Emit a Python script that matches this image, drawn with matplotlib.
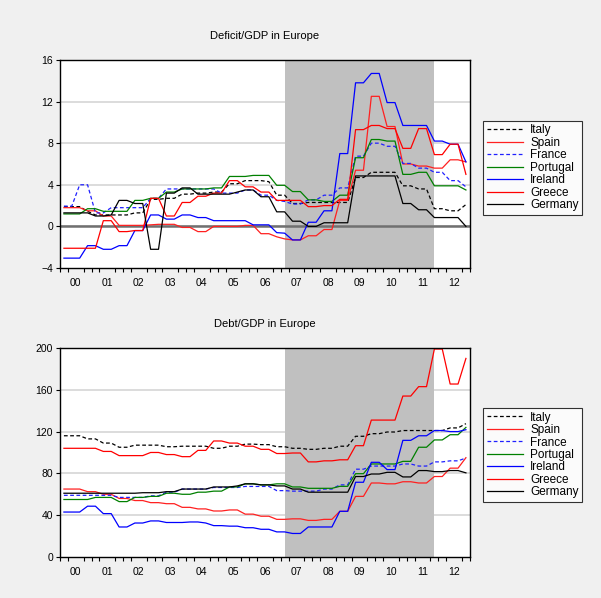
#!/usr/bin/env python
"""
Deficit/GDP and Debt/GDP for seven European countries, quarterly 2000-2012,
with the 2007Q1-2011Q4 crisis window shaded.  Output: out.png
"""
import numpy as np
import matplotlib

matplotlib.use("Agg")
import matplotlib.pyplot as plt

plt.rcParams["font.family"] = ["Liberation Sans", "DejaVu Sans"]

BG, SHADE, GRID, ZERO = "#f0f0f0", "#c0c0c0", "#d9d9d9", "#707070"

COUNTRIES = ["Italy", "Spain", "France", "Portugal", "Ireland", "Greece", "Germany"]
YEAR_LABELS = ["00", "01", "02", "03", "04", "05", "06", "07", "08", "09", "10", "11", "12"]
CRISIS = (2007.125, 2011.875)

# quarterly values, 2000Q1 .. 2012Q4 (52 points each)
ITALY_DEF = ([1.9] * 3 + [1.45] + [1.1] * 5 + [1.3] * 2 + [2.6] * 2 + [2.7] * 2
             + [3.1] * 2 + [3.2] * 2 + [3.3] * 2 + [4.1] * 2 + [4.4] * 3 + [4.3]
             + [3.0] * 2 + [2.2] * 2 + [2.3] * 6 + [4.7] * 2 + [5.2] * 4
             + [3.9] * 2 + [3.6] * 2 + [1.7] * 2 + [1.5] * 2 + [2.1])
SPAIN_DEF = ([1.8] * 3 + [1.5] * 2 + [1.0] * 2 + [0.1] * 4 + [0.15] + [0.2] * 3
             + [-0.1] * 2 + [-0.5] * 2 + [0.0] * 4 + [0.1] * 2 + [-0.7] * 2
             + [-1.0] + [-1.2] + [-1.3] * 2 + [-0.9] * 2 + [-0.3] * 2 + [2.5] * 2
             + [5.4] * 2 + [12.5] * 2 + [9.6] * 2 + [6.0] * 2 + [5.8] * 2
             + [5.6] * 2 + [6.4] * 2 + [6.2])
FRANCE_DEF = ([1.95] * 2 + [4.0] * 2 + [1.3] * 2 + [1.8] * 5 + [2.7] * 2
              + [3.6] * 7 + [3.2] * 3 + [3.5] * 2 + [3.0] * 2 + [2.5] + [2.4]
              + [2.15] * 2 + [2.55] * 2 + [3.0] * 2 + [3.7] * 2 + [6.75] * 2
              + [8.0] * 2 + [7.7] * 2 + [6.05] * 2 + [5.6] * 2 + [5.2] * 2
              + [4.4] * 2 + [3.8])
PORTUGAL_DEF = ([1.2] * 3 + [1.7] * 2 + [1.45] * 4 + [2.5] * 2 + [2.7] * 2
                + [3.3] * 2 + [3.6] * 4 + [3.7] * 2 + [4.8] * 3 + [4.9] * 3
                + [3.95] * 2 + [3.35] * 2 + [2.55] * 2 + [2.4] * 2 + [3.0] * 2
                + [6.6] * 2 + [8.35] * 2 + [8.2] * 2 + [5.0] * 2 + [5.2] * 2
                + [3.9] * 4 + [3.5])
IRELAND_DEF = ([-3.05] * 3 + [-1.85] * 2 + [-2.2] * 2 + [-1.85] * 2 + [-0.4] * 2
               + [1.1] * 2 + [0.7] * 2 + [1.1] * 2 + [0.85] * 2 + [0.55] * 5
               + [0.15] * 3 + [-0.6] + [-0.65] + [-1.3] * 2 + [0.4] * 2
               + [1.5] * 2 + [7.0] * 2 + [13.8] * 2 + [14.7] * 2 + [11.9] * 2
               + [9.7] * 4 + [8.2] * 2 + [7.9] * 2 + [6.2])
GREECE_DEF = ([-2.1] * 5 + [0.55] * 2 + [-0.5] * 2 + [-0.4] * 2 + [2.7] * 2
              + [1.0] * 2 + [2.3] * 2 + [2.9] * 2 + [3.2] * 2 + [4.4] * 2
              + [3.8] * 2 + [3.3] * 2 + [2.5] * 4 + [1.9] * 2 + [2.0] * 2
              + [2.6] * 2 + [9.3] * 2 + [9.7] * 2 + [9.4] * 2 + [7.5] * 2
              + [9.4] * 2 + [6.9] * 2 + [7.9] * 2 + [5.0])
GERMANY_DEF = ([1.3] * 4 + [1.0] * 2 + [1.1] + [2.5] * 2 + [2.2] * 2 + [-2.2] * 2
               + [3.2] * 2 + [3.7] * 2 + [3.1] * 5 + [3.3] + [3.5] * 2
               + [2.85] * 2 + [1.4] * 2 + [0.5] * 2 + [0.0] * 2 + [0.35] * 4
               + [4.85] * 6 + [2.2] * 2 + [1.6] * 2 + [0.85] * 4 + [0.0])

ITALY_DEBT = ([116] * 3 + [113] * 2 + [109] * 2 + [105] * 2 + [107] * 4
              + [105.5] * 2 + [106] * 4 + [104] * 2 + [106] * 2 + [108] * 2
              + [107.5] * 2 + [105.5] * 2 + [104] * 2 + [103] * 2 + [104] * 2
              + [106] * 2 + [115.5] * 2 + [118] * 2 + [119.6] * 2 + [121] * 6
              + [123.5] * 2 + [127.6])
SPAIN_DEBT = ([65] * 3 + [62.5] * 2 + [60] * 2 + [56] * 2 + [54] * 2 + [52] * 2
              + [51] * 2 + [47.5] * 2 + [46] * 2 + [44] * 2 + [45] * 2 + [41] * 2
              + [39] * 2 + [36] * 2 + [36.5] * 2 + [35] * 2 + [36] * 2
              + [43.7] * 2 + [58] * 2 + [70.8] * 2 + [70] * 2 + [72] * 2
              + [70.8] * 2 + [77] * 2 + [85] * 2 + [95])
FRANCE_DEBT = ([59] * 7 + [57] * 4 + [58.5] * 2 + [62] * 2 + [65] * 4
               + [66.5] * 4 + [67.5] * 4 + [63.5] * 2 + [63] * 4 + [65] * 2
               + [69] * 2 + [84] * 2 + [87] * 4 + [89] * 2 + [87] * 2 + [91] * 2
               + [92] * 2 + [94.7])
PORTUGAL_DEBT = ([55] * 4 + [57] * 3 + [53] * 2 + [57] * 2 + [58] * 2 + [61] * 2
                 + [60] * 2 + [62] * 2 + [63] * 2 + [67] * 2 + [70] * 2
                 + [69] * 2 + [70] * 2 + [67] * 2 + [65.7] * 4 + [67.6] * 2
                 + [79.7] * 2 + [89] * 4 + [91.5] * 2 + [105] * 2 + [112] * 2
                 + [117] * 2 + [124])
IRELAND_DEBT = ([43] * 3 + [48.6] * 2 + [41.5] * 2 + [28.7] * 2 + [32.5] * 2
                + [34.5] * 2 + [33] * 3 + [33.5] * 2 + [32.5] + [30] * 2
                + [29.5] * 2 + [28] * 2 + [26.5] * 2 + [24] * 2 + [22.5] * 2
                + [28.7] * 4 + [43.7] * 2 + [71.5] * 2 + [90.6] * 2 + [83.6] * 2
                + [111.6] * 2 + [116] * 2 + [121] * 2 + [120] * 2 + [121.8])
GREECE_DEBT = ([104] * 5 + [101] * 2 + [97] * 4 + [100] * 2 + [98] * 2 + [96] * 2
               + [102] * 2 + [111] * 2 + [109] * 2 + [106] * 2 + [103] * 2
               + [99] * 2 + [99.5] * 2 + [91] * 2 + [92] * 2 + [93] * 2
               + [106.5] * 2 + [131] * 4 + [154] * 2 + [163] * 2 + [199] * 2
               + [165.5] * 2 + [190])
GERMANY_DEBT = ([61] * 10 + [61.5] * 3 + [62.5] * 2 + [65] * 4 + [67] * 3 + [68]
                + [70] * 2 + [69] * 2 + [68] * 2 + [65] * 2 + [62] * 6 + [77] * 2
                + [79.4] * 2 + [81] * 2 + [76.6] * 2 + [82.7] * 2 + [81.7] * 2
                + [82.7] * 2 + [80.5])

STYLES = {
    "Italy": dict(color="black", ls=(0, (3, 2))),
    "Spain": dict(color="#ff2020", ls="-"),
    "France": dict(color="#2020ff", ls=(0, (3, 2))),
    "Portugal": dict(color="#008000", ls="-"),
    "Ireland": dict(color="#0000ff", ls="-"),
    "Greece": dict(color="#ff0000", ls="-"),
    "Germany": dict(color="black", ls="-"),
}


def panel(fig, rect, title, series, ylim, yticks, zero_line, legend_y):
    ax = fig.add_axes(rect)
    ax.set_facecolor("white")
    t = 2000.125 + 0.25 * np.arange(52)

    for y in yticks[1:-1]:
        ax.axhline(y, color=GRID, lw=1.3, zorder=0)
    ax.axvspan(*CRISIS, color=SHADE, lw=0, zorder=1)
    if zero_line:
        ax.axhline(0, color=ZERO, lw=1.8, zorder=2)

    for name, vals in zip(COUNTRIES, series):
        assert len(vals) == 52, name
        ax.plot(t, vals, lw=0.9, label=name, zorder=3, **STYLES[name])

    ax.set_xlim(2000, 2013)
    ax.set_ylim(*ylim)
    ax.set_yticks(yticks)
    ax.tick_params(axis="y", labelsize=7.5, length=3, width=0.8, pad=2, direction="out")

    years = np.arange(2000, 2013)
    ax.set_xticks(years + 0.5, YEAR_LABELS)
    ax.set_xticks(np.arange(2000, 2013.01, 0.25), minor=True)
    ax.tick_params(axis="x", which="major", length=0, labelsize=7.5, pad=7)
    ax.tick_params(axis="x", which="minor", length=3, width=0.8, direction="out")
    for s in ax.spines.values():
        s.set_linewidth(1.0)
        s.set_zorder(4)

    ax.set_title(title, fontsize=8, pad=15)

    leg = ax.legend(
        loc="upper left",
        bbox_to_anchor=(0.8037, legend_y),
        bbox_transform=fig.transFigure,
        borderaxespad=0,
        fontsize=8.5,
        frameon=True,
        fancybox=False,
        handlelength=3.1,
        handletextpad=0.6,
        labelspacing=0.04,
        borderpad=0.3,
    )
    leg.get_frame().set_edgecolor("black")
    leg.get_frame().set_linewidth(0.8)
    return ax


def main():
    fig = plt.figure(figsize=(6.01, 5.98), dpi=100, facecolor=BG)

    panel(
        fig,
        [0.0998, 0.5518, 0.682, 0.348],
        "Deficit/GDP in Europe",
        [ITALY_DEF, SPAIN_DEF, FRANCE_DEF, PORTUGAL_DEF, IRELAND_DEF, GREECE_DEF, GERMANY_DEF],
        (-4, 16),
        [-4, 0, 4, 8, 12, 16],
        True,
        0.798,
    )
    panel(
        fig,
        [0.0998, 0.0686, 0.682, 0.3495],
        "Debt/GDP in Europe",
        [ITALY_DEBT, SPAIN_DEBT, FRANCE_DEBT, PORTUGAL_DEBT, IRELAND_DEBT, GREECE_DEBT, GERMANY_DEBT],
        (0, 200),
        [0, 40, 80, 120, 160, 200],
        False,
        0.3177,
    )

    fig.savefig("out.png", dpi=100, facecolor=BG)


if __name__ == "__main__":
    main()
